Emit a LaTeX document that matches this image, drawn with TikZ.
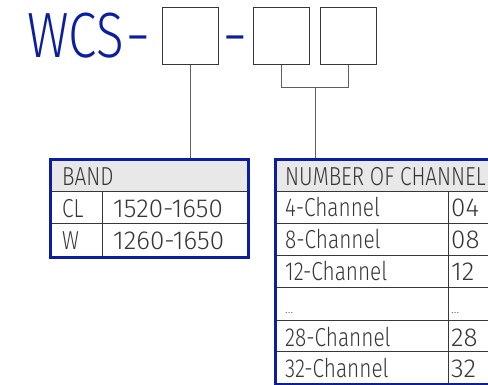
\documentclass[tikz,border=0pt]{standalone}
\usepackage{fontspec}
\setmainfont{Fira Sans Light}[FakeStretch=0.8]
\newfontfamily\numfont{Fira Sans Light}
\usetikzlibrary{calc}
\definecolor{wcsblue}{RGB}{12,30,160}
\definecolor{cellgray}{RGB}{232,232,232}
\definecolor{inkgray}{RGB}{55,55,55}
\definecolor{wiregray}{RGB}{95,95,95}
\tikzstyle{codebox} = [draw=inkgray, line width=1.2pt, fill=white, minimum width=56pt, minimum height=57pt, inner sep=0pt, anchor=north west]
\tikzstyle{tabframe} = [draw=wcsblue, line width=2.6pt, inner sep=0pt, anchor=north west]
\tikzstyle{celltext} = [anchor=base west, text=inkgray, inner sep=0pt, font={\fontsize{26}{28}\selectfont}]
\tikzstyle{numtext} = [celltext, font={\fontsize{26}{28}\numfont}]
\tikzstyle{dottext} = [celltext, text=wiregray, font={\fontsize{13}{14}\numfont}]
\tikzstyle{wcstext} = [anchor=base west, text=wcsblue, inner sep=0pt, font={\fontsize{64}{68}\selectfont}]
\tikzstyle{rule} = [draw=inkgray, line width=1pt]
\tikzstyle{wire} = [draw=wiregray, line width=1.2pt]

\begin{document}
\begin{tikzpicture}[x=1pt, y=-1pt]
  \useasboundingbox (0,0) rectangle (488,385);

  % part number
  \node[wcstext] (wcs) at (27,58) {WCS\kern2pt{\numfont-}};
  \node[codebox] (band box) at (162,7) {};
  \node[wcstext, anchor=base, font={\fontsize{64}{68}\numfont}] (dash) at (235,58) {-};
  \node[codebox] (chan box a) at (253,7) {};
  \node[codebox] (chan box b) at (320,7) {};

  % band table
  \begin{scope}[xshift=49pt, yshift=-158pt]
    \fill[cellgray] (0,0) rectangle (198,34);
    \draw[rule] (0,34) -- (198,34);
    \draw[rule] (0,66) -- (198,66);
    \draw[rule] (53,34) -- (53,98);
    \node[at={(13,28)}, celltext] (band head) {BAND};
    \node[at={(13,60)}, celltext] (band cl) {CL};
    \node[at={(64,60)}, numtext] (band cl val) {1520-1650};
    \node[at={(13,92)}, celltext] (band w) {W};
    \node[at={(64,92)}, numtext] (band w val) {1260-1650};
  \end{scope}
  \node[tabframe, minimum width=198pt, minimum height=98pt] (band) at (49,158) {};

  % channel table
  \begin{scope}[xshift=274pt, yshift=-158pt]
    \fill[cellgray] (0,0) rectangle (230,34);
    \draw[rule] (0,34) -- (230,34);
    \draw[rule] (0,66) -- (230,66);
    \draw[rule] (0,98) -- (230,98);
    \draw[rule] (0,130) -- (230,130);
    \draw[rule] (0,162) -- (230,162);
    \draw[rule] (0,193) -- (230,193);
    \draw[rule] (174,34) -- (174,225);
    \node[at={(11,28)}, celltext] (chan head) {NUMBER OF CHANNEL};
    \node[at={(11,59)}, celltext] (chan 4) {4-Channel};
    \node[at={(177,59)}, numtext] (chan 4 val) {04};
    \node[at={(11,91)}, celltext] (chan 8) {8-Channel};
    \node[at={(177,91)}, numtext] (chan 8 val) {08};
    \node[at={(11,123)}, celltext] (chan 12) {12-Channel};
    \node[at={(177,123)}, numtext] (chan 12 val) {12};
    \node[at={(11,155)}, dottext] (chan dots) {...};
    \node[at={(177,155)}, dottext] (chan dots val) {...};
    \node[at={(11,188)}, celltext] (chan 28) {28-Channel};
    \node[at={(177,188)}, numtext] (chan 28 val) {28};
    \node[at={(11,219)}, celltext] (chan 32) {32-Channel};
    \node[at={(177,219)}, numtext] (chan 32 val) {32};
  \end{scope}
  \node[tabframe, minimum width=230pt, minimum height=225pt] (chan) at (274,158) {};

  % connectors
  \coordinate (fork) at ($(chan box a.south)!.5!(chan box b.south) + (0,22)$);
  \draw[wire] (band box.south) -- (band box.south |- band.north);
  \draw[wire] (chan box a.south) |- (fork) -| (chan box b.south);
  \draw[wire] (fork) -- (fork |- chan.north);
\end{tikzpicture}
\end{document}
